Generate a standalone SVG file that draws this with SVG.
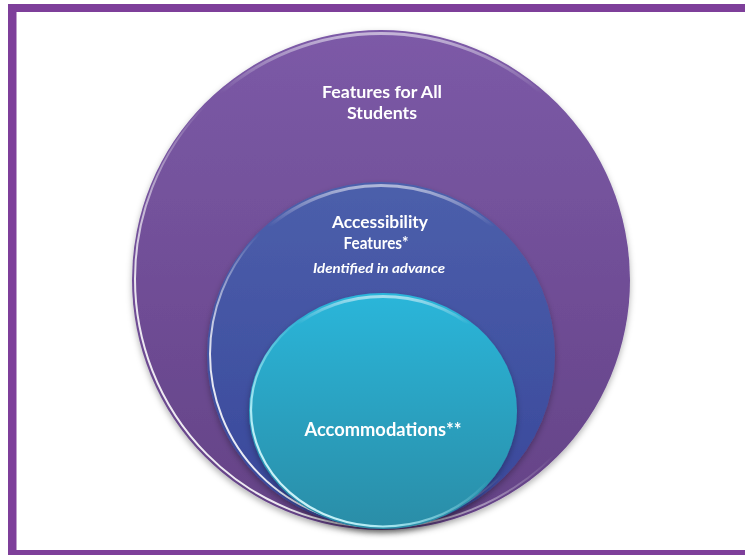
<svg xmlns="http://www.w3.org/2000/svg" width="745" height="555" viewBox="0 0 745 555">
  <defs>
    <linearGradient id="gBig" x1="0" y1="0" x2="0" y2="1">
      <stop offset="0" stop-color="#7C5AA7"/>
      <stop offset="1" stop-color="#644286"/>
    </linearGradient>
    <linearGradient id="gMid" x1="0" y1="0" x2="0" y2="1">
      <stop offset="0" stop-color="#4C5FAB"/>
      <stop offset="1" stop-color="#38479A"/>
    </linearGradient>
    <linearGradient id="gIn" x1="0" y1="0" x2="0" y2="1">
      <stop offset="0" stop-color="#2BB6DA"/>
      <stop offset="1" stop-color="#2A8DA7"/>
    </linearGradient>
    <linearGradient id="gRim" x1="1" y1="0" x2="0" y2="1">
      <stop offset="0" stop-color="#fff" stop-opacity="0"/>
      <stop offset="0.5" stop-color="#fff" stop-opacity="0"/>
      <stop offset="0.75" stop-color="#fff" stop-opacity="0.85"/>
      <stop offset="1" stop-color="#fff" stop-opacity="0.95"/>
    </linearGradient>
    <linearGradient id="gTop" x1="0" y1="0" x2="0" y2="1">
      <stop offset="0" stop-color="#fff" stop-opacity="0.55"/>
      <stop offset="0.12" stop-color="#fff" stop-opacity="0"/>
      <stop offset="1" stop-color="#fff" stop-opacity="0"/>
    </linearGradient>
    <linearGradient id="gRimIn" x1="1" y1="0" x2="0" y2="1">
      <stop offset="0" stop-color="#9FEAF6" stop-opacity="0"/>
      <stop offset="0.45" stop-color="#9FEAF6" stop-opacity="0"/>
      <stop offset="0.75" stop-color="#B8F2FA" stop-opacity="0.9"/>
      <stop offset="1" stop-color="#ffffff" stop-opacity="1"/>
    </linearGradient>
    <filter id="shadow" x="-10%" y="-10%" width="120%" height="125%">
      <feDropShadow dx="0" dy="3" stdDeviation="3" flood-color="#000" flood-opacity="0.3"/>
    </filter>
  </defs>
  <style>
    .frame { fill: #7E3F9A; }
    .lbl { fill: #ffffff; font-family: Lato, "Open Sans", "Liberation Sans", sans-serif; font-weight: 700; text-anchor: middle; }
    .sub { fill: #ffffff; font-family: Lato, "Open Sans", "Liberation Sans", sans-serif; font-weight: 700; font-style: italic; text-anchor: middle; }
    .rim { fill: none; stroke: url(#gRim); stroke-width: 2; }
    .top { fill: none; stroke: url(#gTop); stroke-width: 3; }
  </style>

  <rect width="745" height="555" fill="#ffffff"/>
  <g id="frame">
    <rect class="frame" x="8" y="4" width="737" height="8"/>
    <rect class="frame" x="8" y="4" width="8.5" height="551"/>
    <rect class="frame" x="8" y="550" width="737" height="5"/>
  </g>

  <g id="features-all" filter="url(#shadow)">
    <ellipse cx="381" cy="280" rx="249" ry="250" fill="url(#gBig)"/>
    <ellipse class="top" cx="381" cy="281.5" rx="247" ry="248"/>
    <ellipse class="rim" cx="381" cy="279" rx="246" ry="248"/>
    <text class="lbl" x="382" y="98" font-size="17" textLength="120" lengthAdjust="spacingAndGlyphs">Features for All</text>
    <text class="lbl" x="382" y="119" font-size="17" textLength="70" lengthAdjust="spacingAndGlyphs">Students</text>
  </g>

  <g id="accessibility" filter="url(#shadow)">
    <ellipse cx="381" cy="355" rx="174" ry="173" fill="url(#gMid)"/>
    <ellipse class="top" cx="381" cy="356.5" rx="172" ry="171"/>
    <ellipse class="rim" cx="381" cy="354" rx="171" ry="171"/>
    <text class="lbl" x="380" y="228" font-size="17" textLength="96" lengthAdjust="spacingAndGlyphs">Accessibility</text>
    <text class="lbl" x="376" y="249" font-size="17" textLength="65" lengthAdjust="spacingAndGlyphs">Features*</text>
    <text class="sub" x="379" y="273" font-size="13" textLength="132" lengthAdjust="spacingAndGlyphs">Identified in advance</text>
  </g>

  <g id="accommodations" filter="url(#shadow)">
    <ellipse cx="383" cy="411" rx="134" ry="118" fill="url(#gIn)"/>
    <ellipse cx="383" cy="412.5" rx="132" ry="116" fill="none" stroke="url(#gTop)" stroke-width="3"/>
    <ellipse cx="383" cy="410" rx="132" ry="116.5" fill="none" stroke="url(#gRimIn)" stroke-width="2.2"/>
    <text class="lbl" x="383" y="436" font-size="19" textLength="157" lengthAdjust="spacingAndGlyphs">Accommodations**</text>
  </g>
</svg>
